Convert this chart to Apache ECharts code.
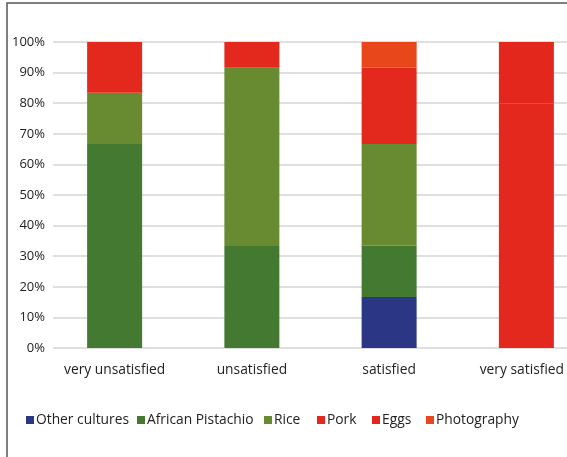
<!DOCTYPE html>
<html>
<head>
<meta charset="utf-8">
<script src="https://cdn.jsdelivr.net/npm/echarts@6/dist/echarts.min.js"></script>
<style>
  html, body { margin: 0; padding: 0; background: #fff; }
  #chart { width: 567px; height: 457px; }
</style>
</head>
<body>
<div id="chart"></div>
<script>
// Satisfaction levels on the x axis
const categories = ['very unsatisfied', 'unsatisfied', 'satisfied', 'very satisfied'];

// Share of answers (%) per activity for each satisfaction level
const otherCultures    = [0, 0, 16.7, 0];
const africanPistachio = [66.7, 33.3, 16.7, 0];
const rice             = [16.7, 58.3, 33.3, 0];
const pork             = [16.6, 8.4, 25.0, 80];
const eggs             = [0, 0, 0, 20];
const photography      = [0, 0, 8.3, 0];

const yTicks = [0, 10, 20, 30, 40, 50, 60, 70, 80, 90, 100];

const seriesDefs = [
  { name: 'Other cultures',    data: otherCultures,    color: '#2b3784' },
  { name: 'African Pistachio', data: africanPistachio, color: '#437930' },
  { name: 'Rice',              data: rice,             color: '#688a30' },
  { name: 'Pork',              data: pork,             color: '#e3291d' },
  { name: 'Eggs',              data: eggs,             color: '#e4271c' },
  { name: 'Photography',       data: photography,      color: '#e8461b' }
];

const FONT = 'Open Sans';
const legendLeft = [26, 137, 264, 317, 372, 426];

// the last category label sits against the right edge, nudge it inwards a little
const categoryData = categories.map((c, i) =>
  i === categories.length - 1 ? { value: c, textStyle: { padding: [0, 9, 0, 0] } } : c
);

const chart = echarts.init(document.getElementById('chart'), null, { renderer: 'canvas' });

chart.setOption({
  backgroundColor: '#fff',
  animation: false,
  graphic: [{
    type: 'polyline',
    shape: { points: [[7, 460], [7, 3], [600, 3]] },
    style: { stroke: '#555', lineWidth: 1.5, fill: null },
    silent: true
  }],
  grid: [
    // bar area: four equal category bands, the last one running past the right edge
    { left: 46, top: 42, width: 549, height: 306, containLabel: false, outerBoundsMode: 'none' },
    // percentage axis and its grid lines
    { left: 53, top: 42, right: 0, height: 306, containLabel: false, outerBoundsMode: 'none' }
  ],
  legend: seriesDefs.map((s, i) => ({
    data: [s.name],
    left: legendLeft[i],
    top: 413,
    itemWidth: 8,
    itemHeight: 8,
    itemGap: 0,
    icon: 'rect',
    textStyle: { fontFamily: FONT, fontSize: 13.8, color: '#222', padding: [0, 0, 0, -3] },
    padding: 0
  })),
  xAxis: [
    {
      type: 'category',
      gridIndex: 0,
      data: categoryData,
      axisLine: { show: false },
      axisTick: { show: false },
      axisLabel: { fontFamily: FONT, fontSize: 13.8, color: '#222', margin: 15, interval: 0 }
    },
    {
      type: 'value',
      gridIndex: 1,
      show: false
    }
  ],
  yAxis: [
    {
      type: 'value',
      gridIndex: 0,
      min: 0, max: 100, interval: 10,
      show: false
    },
    {
      type: 'value',
      gridIndex: 1,
      min: yTicks[0], max: yTicks[yTicks.length - 1], interval: 10,
      axisLine: { show: false },
      axisTick: { show: false },
      splitLine: { show: true, lineStyle: { color: '#d4d4d4', width: 1.5 } },
      axisLabel: {
        fontFamily: FONT, fontSize: 13, color: '#222', margin: 8,
        formatter: v => v + '%'
      }
    }
  ],
  series: seriesDefs.map(s => ({
    name: s.name,
    type: 'bar',
    stack: 'total',
    xAxisIndex: 0,
    yAxisIndex: 0,
    barWidth: 55,
    data: s.data,
    itemStyle: { color: s.color },
    z: 3
  }))
});
</script>
</body>
</html>
